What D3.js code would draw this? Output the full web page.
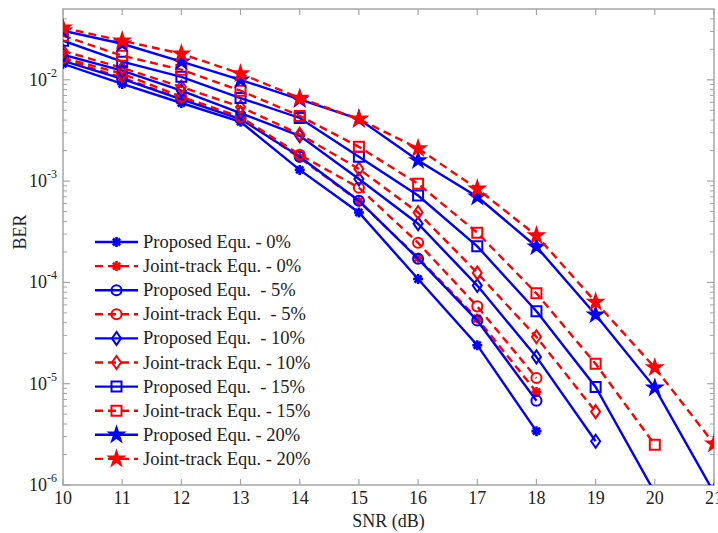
<!DOCTYPE html>
<html>
<head>
<meta charset="utf-8">
<script src="https://cdn.jsdelivr.net/npm/d3@7"></script>
<style>
  body { margin: 0; background: #fff; }
  text { font-family: "Liberation Serif", "Times New Roman", serif; fill: #222; }
</style>
</head>
<body>
<svg id="chart" width="718" height="533"></svg>
<script>
'use strict';

// SNR (dB) values
const snr = [10, 11, 12, 13, 14, 15, 16, 17, 18, 19, 20, 21];

// BER values
const prop0  = [0.0144, 0.0091, 0.0059, 0.00385, 0.00129, 4.9e-4, 1.08e-4, 2.4e-5, 3.4e-6];
const joint0 = [0.0160, 0.0105, 0.0065, 0.0042, 0.00170, 6.3e-4, 1.75e-4, 4.4e-5, 8.3e-6];
const prop5  = [0.0154, 0.0102, 0.0064, 0.0041, 0.00174, 6.4e-4, 1.71e-4, 4.2e-5, 6.8e-6];
const joint5 = [0.0165, 0.0115, 0.0068, 0.0043, 0.00182, 8.6e-4, 2.46e-4, 5.8e-5, 1.14e-5];
const prop10  = [0.0177, 0.0123, 0.0078, 0.0047, 0.0028, 0.00105, 3.8e-4, 9.3e-5, 1.84e-5, 2.7e-6];
const joint10 = [0.0193, 0.0131, 0.0085, 0.0054, 0.0029, 0.00132, 4.9e-4, 1.24e-4, 2.9e-5, 5.3e-6];
const prop15  = [0.0243, 0.0151, 0.0107, 0.0066, 0.0042, 0.00174, 7.2e-4, 2.27e-4, 5.2e-5, 9.3e-6, 8.4e-7];
const joint15 = [0.0272, 0.0173, 0.0126, 0.0078, 0.0044, 0.00218, 9.4e-4, 3.1e-4, 7.8e-5, 1.57e-5, 2.5e-6];
const prop20  = [0.0305, 0.0227, 0.0151, 0.0100, 0.0064, 0.0041, 0.0016, 7.0e-4, 2.25e-4, 4.8e-5, 9.1e-6, 8.4e-7];
const joint20 = [0.0326, 0.0243, 0.0181, 0.0115, 0.0066, 0.0041, 0.0021, 8.4e-4, 2.9e-4, 6.4e-5, 1.44e-5, 2.55e-6];

const labels = [
  'Proposed Equ. - 0%', 'Joint-track Equ. - 0%',
  'Proposed Equ.  - 5%', 'Joint-track Equ.  - 5%',
  'Proposed Equ.  - 10%', 'Joint-track Equ. - 10%',
  'Proposed Equ.  - 15%', 'Joint-track Equ. - 15%',
  'Proposed Equ. - 20%', 'Joint-track Equ. - 20%'
];
const xTicks = [10, 11, 12, 13, 14, 15, 16, 17, 18, 19, 20, 21];
const yTicks = [1e-6, 1e-5, 1e-4, 1e-3, 1e-2];

const series = [
  {values: prop0,   marker: 'asterisk', blue: true},
  {values: joint0,  marker: 'asterisk', blue: false},
  {values: prop5,   marker: 'circle',   blue: true},
  {values: joint5,  marker: 'circle',   blue: false},
  {values: prop10,  marker: 'diamond',  blue: true},
  {values: joint10, marker: 'diamond',  blue: false},
  {values: prop15,  marker: 'square',   blue: true},
  {values: joint15, marker: 'square',   blue: false},
  {values: prop20,  marker: 'star',     blue: true},
  {values: joint20, marker: 'star',     blue: false}
].map((s, i) => Object.assign(s, {label: labels[i]}));

const margin = {left: 63, right: 4, top: 9, bottom: 48};
const width = 718, height = 533;
const svg = d3.select('#chart');

const x = d3.scaleLinear().domain([10, 21]).range([margin.left, width - margin.right]);
const y = d3.scaleLog().domain([1e-6, 0.05]).range([height - margin.bottom, margin.top]);

const axisColor = '#a6a6a6';
const x0 = x.range()[0], x1 = x.range()[1];
const y0 = y.range()[0], y1 = y.range()[1];

// markers
const markerPath = (type) => {
  switch (type) {
    case 'circle': return d3.symbol(d3.symbolCircle, 80)();
    case 'square': return 'M-5,-5H5V5H-5Z';
    case 'diamond': return 'M0,-6.5L4.5,0L0,6.5L-4.5,0Z';
    case 'star': return d3.symbol(d3.symbolStar, 62)();
    case 'asterisk': {
      const r = 5;
      const a = r * Math.cos(Math.PI / 4);
      return `M${-r},0H${r}M0,${-r}V${r}M${-a},${-a}L${a},${a}M${-a},${a}L${a},${-a}`;
    }
  }
};

const drawMarker = (g, type, color) => {
  g.append('path')
    .attr('d', markerPath(type))
    .attr('fill', type === 'star' || type === 'asterisk' ? color : 'none')
    .attr('stroke', color)
    .attr('stroke-width', type === 'asterisk' ? 2.6 : 2)
    .attr('stroke-linejoin', 'miter');
};

// clip
svg.append('defs').append('clipPath').attr('id', 'plotclip')
  .append('rect')
  .attr('x', x0).attr('y', y1)
  .attr('width', x1 - x0).attr('height', y0 - y1);

// axes box
const axes = svg.append('g');
axes.append('rect')
  .attr('x', x0).attr('y', y1)
  .attr('width', x1 - x0).attr('height', y0 - y1)
  .attr('fill', 'none')
  .attr('stroke', axisColor)
  .attr('stroke-width', 1.5);

// x ticks (bottom and top, inward)
xTicks.forEach(t => {
  axes.append('line')
    .attr('x1', x(t)).attr('x2', x(t))
    .attr('y1', y0).attr('y2', y0 - 6)
    .attr('stroke', axisColor).attr('stroke-width', 1.2);
  axes.append('line')
    .attr('x1', x(t)).attr('x2', x(t))
    .attr('y1', y1).attr('y2', y1 + 6)
    .attr('stroke', axisColor).attr('stroke-width', 1.2);
  axes.append('text')
    .attr('x', x(t)).attr('y', y0 + 19)
    .attr('text-anchor', 'middle')
    .attr('font-size', 18)
    .text(t);
});

// y ticks major + minor
const minor = [];
yTicks.forEach(t => {
  for (let k = 2; k <= 9; k++) {
    const v = t * k;
    if (v < 0.05) minor.push(v);
  }
});
yTicks.forEach(t => {
  [[x0, x0 + 7], [x1, x1 - 7]].forEach(([a, b]) => {
    axes.append('line')
      .attr('x1', a).attr('x2', b)
      .attr('y1', y(t)).attr('y2', y(t))
      .attr('stroke', axisColor).attr('stroke-width', 1.2);
  });
  const lbl = axes.append('text')
    .attr('x', x0 - 6).attr('y', y(t) + 6)
    .attr('text-anchor', 'end')
    .attr('font-size', 18);
  lbl.append('tspan').text('10');
  lbl.append('tspan')
    .attr('font-size', 12)
    .attr('dy', -9)
    .text(Math.round(Math.log10(t)));
});
minor.forEach(v => {
  [[x0, x0 + 4], [x1, x1 - 4]].forEach(([a, b]) => {
    axes.append('line')
      .attr('x1', a).attr('x2', b)
      .attr('y1', y(v)).attr('y2', y(v))
      .attr('stroke', axisColor).attr('stroke-width', 1);
  });
});

// axis titles
svg.append('text')
  .attr('x', (x0 + x1) / 2).attr('y', height - 6)
  .attr('text-anchor', 'middle')
  .attr('font-size', 18)
  .text('SNR (dB)');
svg.append('text')
  .attr('transform', `translate(26,${(y0 + y1) / 2 - 15}) rotate(-90)`)
  .attr('text-anchor', 'middle')
  .attr('font-size', 18)
  .text('BER');

// series
const line = d3.line()
  .x((d, i) => x(snr[i]))
  .y(d => y(d));

const plot = svg.append('g').attr('clip-path', 'url(#plotclip)');
series.forEach(s => {
  const color = s.blue ? '#0000ff' : '#ff0000';
  plot.append('path')
    .datum(s.values)
    .attr('d', line)
    .attr('fill', 'none')
    .attr('stroke', color)
    .attr('stroke-width', 2.4)
    .attr('stroke-dasharray', s.blue ? null : '8,5');
  s.values.forEach((v, i) => {
    const g = plot.append('g')
      .attr('transform', `translate(${x(snr[i])},${y(v)})`);
    drawMarker(g, s.marker, color);
  });
});

// legend
const legend = svg.append('g');
const legX = 95, legY = 242, rowH = 24.1;
series.forEach((s, i) => {
  const color = s.blue ? '#0000ff' : '#ff0000';
  const yy = legY + i * rowH;
  legend.append('line')
    .attr('x1', legX).attr('x2', legX + 43)
    .attr('y1', yy).attr('y2', yy)
    .attr('stroke', color)
    .attr('stroke-width', 2.4)
    .attr('stroke-dasharray', s.blue ? null : '8,5');
  const g = legend.append('g').attr('transform', `translate(${legX + 21.5},${yy})`);
  drawMarker(g, s.marker, color);
  legend.append('text')
    .attr('x', legX + 48).attr('y', yy + 6)
    .attr('font-size', 18.5)
    .style('white-space', 'pre')
    .text(s.label);
});
</script>
</body>
</html>
